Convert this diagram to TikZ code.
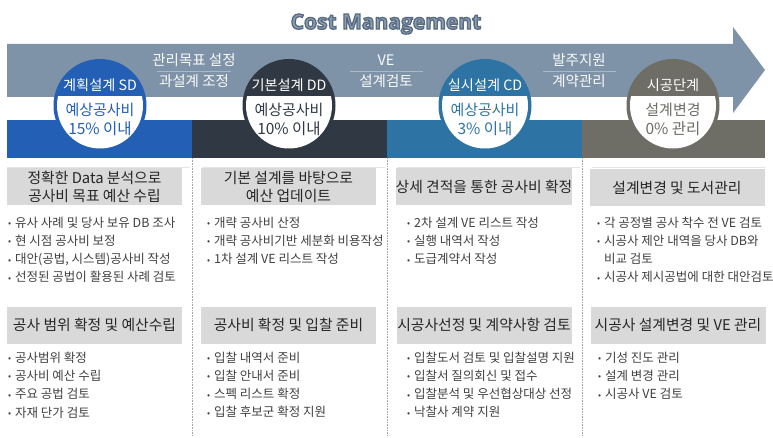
\documentclass[tikz,border=0pt]{standalone}
\usepackage{fontspec}
\setmainfont{Noto Sans CJK KR}
\newfontfamily\titlefont{Open Sans}

\definecolor{sdblue}{RGB}{35,95,180}
\definecolor{ddgray}{RGB}{48,57,67}
\definecolor{cdblue}{RGB}{45,116,165}
\definecolor{csgray}{RGB}{110,109,102}
\definecolor{bandcol}{RGB}{127,147,168}
\definecolor{sepcol}{RGB}{170,185,200}
\definecolor{boxgray}{RGB}{217,217,217}
\definecolor{txtgray}{RGB}{64,64,64}
\definecolor{titlefill}{RGB}{140,158,180}

\newcommand{\bl}{\makebox[7pt][l]{\raisebox{0.5pt}{\fontsize{9}{9}\selectfont•}}}
% outlined title text (fill + stroke)
\newcommand{\outlined}[1]{\special{pdf:literal direct 2 Tr 1.3 w 0.345 0.416 0.502 RG}#1\special{pdf:literal direct 0 Tr}}

\begin{document}
\begin{tikzpicture}[x=1pt, y=-1pt, every node/.style={inner sep=0pt}]
\tikzstyle{circ}=[circle, minimum size=93pt, draw=none]
\tikzstyle{ctop}=[text=white, font=\fontsize{14.2}{14.2}\selectfont]
\tikzstyle{cmid}=[font=\fontsize{15}{15}\selectfont]
\tikzstyle{cbig}=[font=\fontsize{15.5}{15.5}\selectfont]
\tikzstyle{band}=[text=white!95!gray, font=\fontsize{14.5}{14.5}\selectfont]
\tikzstyle{sep}=[draw=sepcol, line width=0.8pt]
\tikzstyle{hbox}=[fill=boxgray, minimum width=175pt, minimum height=37pt, align=center, text=black!85, font=\fontsize{14.8}{17.5}\selectfont]
\tikzstyle{items}=[anchor=north west, align=left, text=txtgray, font=\fontsize{12.5}{18.3}\selectfont]
\tikzstyle{divider}=[draw=gray!70, densely dotted, line width=0.6pt]
\tikzstyle{topline}=[draw=gray!20, line width=0.6pt]

\useasboundingbox (0,0) rectangle (773,438);

% title
\node (title) at (386,24) {\titlefont\bfseries\fontsize{21}{21}\selectfont\color{titlefill}\outlined{Cost Management}};

% arrow band
\fill[bandcol] (7,44) -- (733,44) -- (733,27) -- (765,70) -- (733,113) -- (733,97) -- (7,97) -- cycle;

% colour bars
\fill[sdblue] (7,120) rectangle (192,158);
\fill[ddgray] (192,120) rectangle (387,158);
\fill[cdblue] (387,120) rectangle (582,158);
\fill[csgray] (582,120) rectangle (765,158);

% dividers
\draw[divider] (192,158) -- (192,435);
\draw[divider] (387,158) -- (387,435);
\draw[divider] (582,158) -- (582,435);
\draw[topline] (7,167) -- (190,167);
\draw[topline] (202,167) -- (385,167);
\draw[topline] (397,167) -- (580,167);
\draw[topline] (592,167) -- (765,167);

% band labels
\node[band] (M1) at (194,60) {관리목표 설정};
\node[band] (M2) at (194,81) {과설계 조정};
\draw[sep] (157,71) -- (231,71);
\node[band] (V1) at (386,60) {VE};
\node[band] (V2) at (386,81) {설계검토};
\draw[sep] (350,71) -- (423,71);
\node[band] (B1) at (579,60) {발주지원};
\node[band] (B2) at (579,81) {계약관리};
\draw[sep] (543,71) -- (616,71);

% stage circles
\node[circ, fill=sdblue] (SD) at (100,105.5) {};
\node[circ, fill=ddgray] (DD) at (289,105.5) {};
\node[circ, fill=cdblue] (CD) at (485,105.5) {};
\node[circ, fill=csgray] (CS) at (673,105.5) {};
\begin{scope}
\clip (0,97) rectangle (773,160);
\fill[white] (SD.center) circle (43pt);
\fill[white] (DD.center) circle (43pt);
\fill[white] (CD.center) circle (43pt);
\fill[white] (CS.center) circle (43pt);
\end{scope}

\node[ctop] (SDt) at ([yshift=20.5pt]SD.center) {계획설계 SD};
\node[cmid, text=sdblue] (SDm) at ([yshift=-4.5pt]SD.center) {예상공사비};
\node[cbig, text=sdblue] (SDb) at ([yshift=-23pt]SD.center) {15\% 이내};

\node[ctop] (DDt) at ([yshift=20.5pt]DD.center) {기본설계 DD};
\node[cmid, text=ddgray] (DDm) at ([yshift=-4.5pt]DD.center) {예상공사비};
\node[cbig, text=ddgray] (DDb) at ([yshift=-23pt]DD.center) {10\% 이내};

\node[ctop] (CDt) at ([yshift=20.5pt]CD.center) {실시설계 CD};
\node[cmid, text=cdblue] (CDm) at ([yshift=-4.5pt]CD.center) {예상공사비};
\node[cbig, text=cdblue] (CDb) at ([yshift=-23pt]CD.center) {3\% 이내};

\node[ctop] (CSt) at ([yshift=20.5pt]CS.center) {시공단계};
\node[cmid, text=csgray] (CSm) at ([yshift=-4.5pt]CS.center) {설계변경};
\node[cbig, text=csgray] (CSb) at ([yshift=-23pt]CS.center) {0\% 관리};

% upper headers and lists
\node[hbox] (H1) at (94.5,187) {정확한 Data 분석으로\\공사비 목표 예산 수립};
\node[hbox] (H2) at (288.5,187) {기본 설계를 바탕으로\\예산 업데이트};
\node[hbox] (H3) at (484,187) {상세 견적을 통한 공사비 확정};
\node[hbox] (H4) at (677,188) {설계변경 및 도서관리};

\node[items] (L1) at (8,216.5) {\bl 유사 사례 및 당사 보유 DB 조사\\\bl 현 시점 공사비 보정\\\bl 대안(공법, 시스템)공사비 작성\\\bl 선정된 공법이 활용된 사례 검토};
\node[items] (L2) at (207,216.5) {\bl 개략 공사비 산정\\\bl 개략 공사비기반 세분화 비용작성\\\bl 1차 설계 VE 리스트 작성};
\node[items] (L3) at (407,216.5) {\bl 2차 설계 VE 리스트 작성\\\bl 실행 내역서 작성\\\bl 도급계약서 작성};
\node[items] (L4) at (597,216.5) {\bl 각 공정별 공사 착수 전 VE 검토\\\bl 시공사 제안 내역을 당사 DB와\\\hspace*{7pt}비교 검토\\\bl 시공사 제시공법에 대한 대안검토};

% lower headers and lists
\node[hbox] (K1) at (94.5,325) {공사 범위 확정 및 예산수립};
\node[hbox] (K2) at (288.5,325) {공사비 확정 및 입찰 준비};
\node[hbox] (K3) at (484,325) {시공사선정 및 계약사항 검토};
\node[hbox] (K4) at (678,325) {시공사 설계변경 및 VE 관리};

\node[items] (P1) at (8,351.5) {\bl 공사범위 확정\\\bl 공사비 예산 수립\\\bl 주요 공법 검토\\\bl 자재 단가 검토};
\node[items] (P2) at (207,351.5) {\bl 입찰 내역서 준비\\\bl 입찰 안내서 준비\\\bl 스펙 리스트 확정\\\bl 입찰 후보군 확정 지원};
\node[items] (P3) at (407,351.5) {\bl 입찰도서 검토 및 입찰설명 지원\\\bl 입찰서 질의회신 및 접수\\\bl 입찰분석 및 우선협상대상 선정\\\bl 낙찰사 계약 지원};
\node[items] (P4) at (598,351.5) {\bl 기성 진도 관리\\\bl 설계 변경 관리\\\bl 시공사 VE 검토};
\end{tikzpicture}
\end{document}
